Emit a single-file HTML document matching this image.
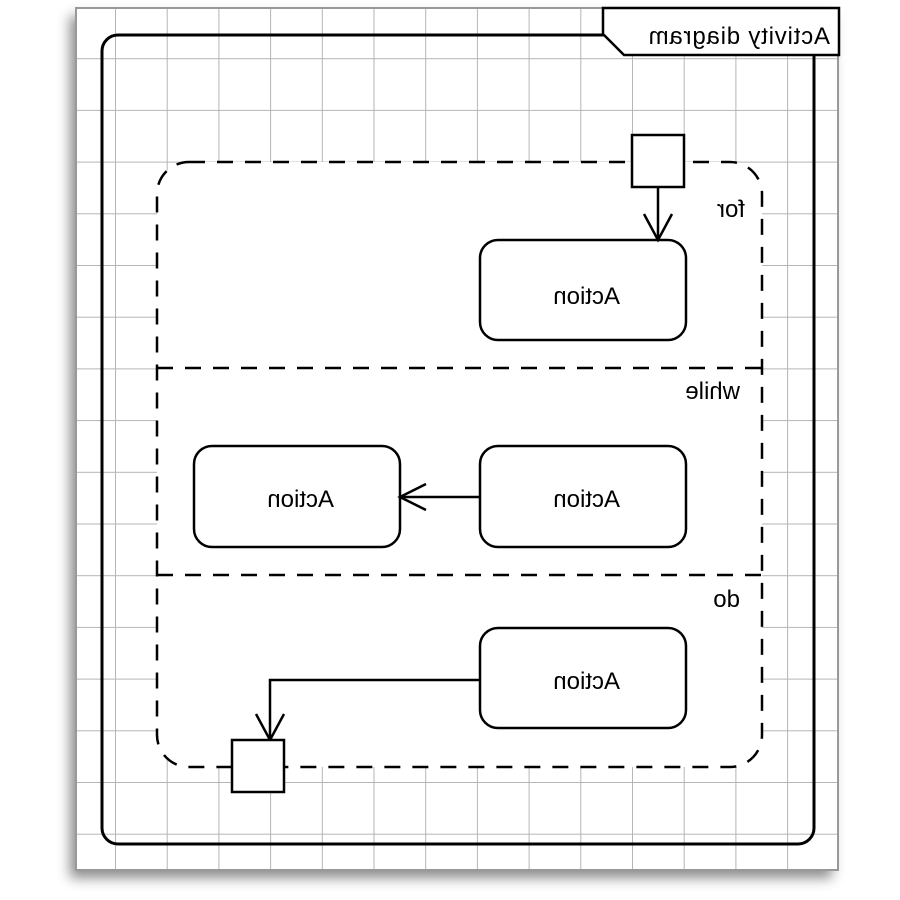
<!DOCTYPE html>
<html><head><style>
body{margin:0;width:900px;height:900px;background:#fff;overflow:hidden;position:relative}
#paper{position:absolute;left:76px;top:8px;width:762px;height:862px;box-shadow:-6px 8px 12px rgba(0,0,0,.45);background:#fff;}
svg{position:absolute;left:0;top:0}
.m{font-family:"Liberation Sans",sans-serif;font-size:24px;fill:#000}
</style></head><body>
<div id="paper"></div>
<svg width="900" height="900" viewBox="0 0 900 900">
<defs>
<pattern id="g" x="115" y="6.5" width="51.7" height="51.7" patternUnits="userSpaceOnUse">
<path d="M0 0V51.7M0 0H51.7" stroke="#b5b5b5" stroke-width="2" fill="none"/>
</pattern>
</defs>
<rect x="76" y="8" width="762" height="862" fill="url(#g)"/>
<rect x="76" y="8" width="762" height="862" fill="none" stroke="#999" stroke-width="2"/>
<rect x="102" y="35" width="712" height="809" rx="16" fill="none" stroke="#000" stroke-width="3"/>
<polygon points="603,8 839,8 839,55 624,55 603,34" fill="#fff" stroke="#000" stroke-width="2.5"/>
<rect x="157" y="162" width="605" height="605" rx="32" fill="#fff" stroke="#000" stroke-width="2.5" stroke-dasharray="16,12"/>
<line x1="157" y1="368" x2="762" y2="368" stroke="#000" stroke-width="2.5" stroke-dasharray="16,12"/>
<line x1="157" y1="575" x2="762" y2="575" stroke="#000" stroke-width="2.5" stroke-dasharray="16,12"/>
<g fill="none" stroke="#000" stroke-width="2.5">
<rect x="480" y="240" width="206" height="100" rx="18"/>
<rect x="480" y="446" width="206" height="101" rx="18"/>
<rect x="194" y="446" width="206" height="101" rx="18"/>
<rect x="480" y="628" width="206" height="100" rx="18"/>
<line x1="658" y1="187" x2="658" y2="240"/>
<path d="M644 214 L658 240 L672 214"/>
<line x1="480" y1="497" x2="400" y2="497"/>
<path d="M426 484 L400 497 L426 510"/>
<path d="M480 680 H270 V740"/>
<path d="M256 714 L270 740 L284 714"/>
</g>
<rect x="632" y="135" width="52" height="52" fill="#fff" stroke="#000" stroke-width="2.5"/>
<rect x="232" y="740" width="52" height="52" fill="#fff" stroke="#000" stroke-width="2.5"/>
<g transform="translate(900,0) scale(-1,1)">
<text class="m" x="70" y="44" font-size="27" letter-spacing="0.8">Activity diagram</text>
<text class="m" x="155" y="217">for</text>
<text class="m" x="160" y="399">while</text>
<text class="m" x="160" y="607">do</text>
<text class="m" x="280" y="304">Action</text>
<text class="m" x="280" y="507">Action</text>
<text class="m" x="566" y="507">Action</text>
<text class="m" x="280" y="689">Action</text>
</g>
</svg>
</body></html>
